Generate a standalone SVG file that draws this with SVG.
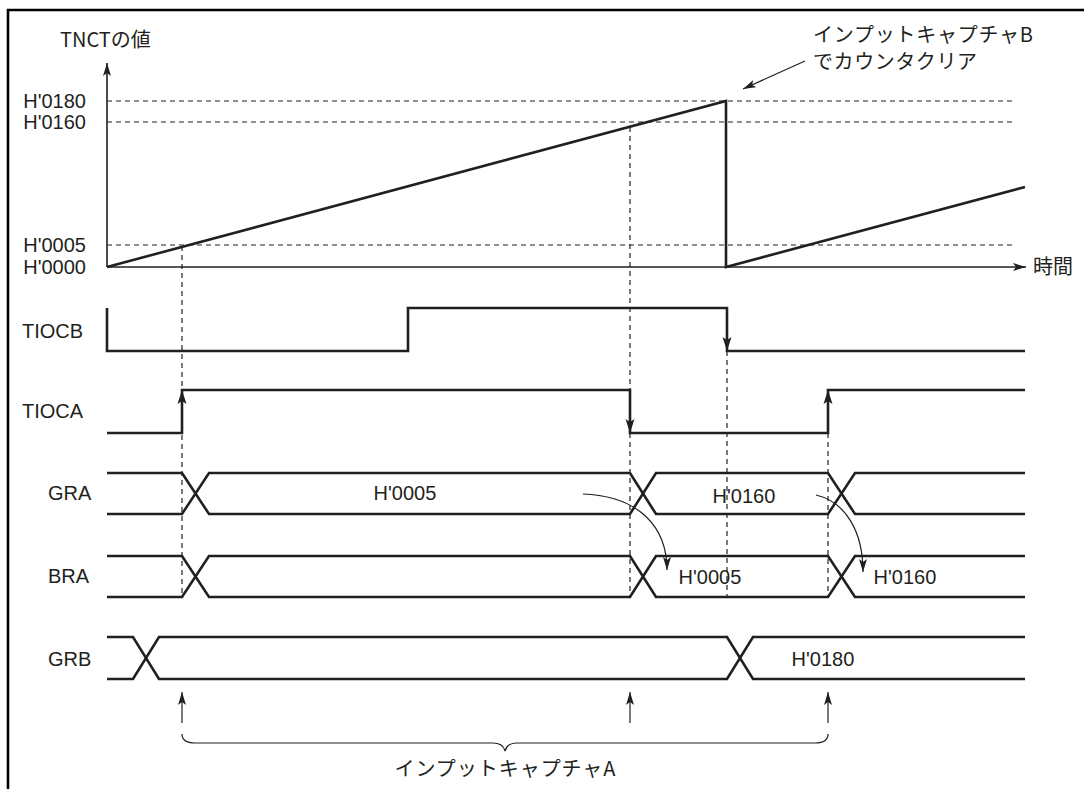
<svg xmlns="http://www.w3.org/2000/svg" width="1084" height="789" viewBox="0 0 1084 789">
<style>
text{font-family:"Liberation Sans","Noto Sans CJK JP",sans-serif;font-size:20px;fill:#231f20}
.jp{font-family:"Noto Sans CJK JP","Liberation Sans",sans-serif}
.sig{fill:none;stroke:#231f20;stroke-width:2.6;stroke-linejoin:miter}
.ax{fill:none;stroke:#231f20;stroke-width:1.6}
.dash{fill:none;stroke:#231f20;stroke-width:1.2;stroke-dasharray:5 4}
.thin{fill:none;stroke:#231f20;stroke-width:1.2}
.ah{fill:#231f20}
</style>
<defs>
<marker id="arr" viewBox="0 0 13 8" refX="13" refY="4" markerWidth="13" markerHeight="8" orient="auto" markerUnits="userSpaceOnUse"><path d="M0,0 L13,4 L0,8 L3,4 Z" fill="#231f20"/></marker>
<path id="up" d="M0,0 L-4.5,14 L0,11 L4.5,14 Z"/>
<path id="dn" d="M0,0 L-4.5,-14 L0,-11 L4.5,-14 Z"/>
</defs>
<g id="frame"><path d="M8,789 V10 H1084" fill="none" stroke="#000" stroke-width="2.6"/></g>

<g id="connectors">
<line class="dash" x1="107" y1="101" x2="1016" y2="101"/>
<line class="dash" x1="107" y1="122" x2="1016" y2="122"/>
<line class="dash" x1="107" y1="245" x2="1016" y2="245"/>
<line class="dash" x1="182" y1="246" x2="182" y2="597"/>
<line class="dash" x1="630" y1="127" x2="630" y2="597"/>
<line class="dash" x1="727" y1="351" x2="727" y2="597"/>
<line class="dash" x1="828" y1="433" x2="828" y2="597"/>
<line class="thin" x1="805" y1="61" x2="743" y2="89" marker-end="url(#arr)"/>
<path class="thin" d="M583,494 C638,496 667,526 667,570" marker-end="url(#arr)"/>
<path class="thin" d="M816,495 C846,502 863,532 863,572" marker-end="url(#arr)"/>
<line class="thin" x1="182" y1="723" x2="182" y2="692" marker-end="url(#arr)"/>
<line class="thin" x1="630" y1="723" x2="630" y2="692" marker-end="url(#arr)"/>
<line class="thin" x1="828" y1="723" x2="828" y2="692" marker-end="url(#arr)"/>
<path class="thin" d="M182,734 Q182,743 195,743 H493 Q503,743 505,751 Q507,743 517,743 H815 Q828,743 828,734"/>
</g>

<g id="axes">
<line class="ax" x1="107" y1="267" x2="107" y2="63" marker-end="url(#arr)"/>
<line class="ax" x1="107" y1="267" x2="1026" y2="267" marker-end="url(#arr)"/>
<text x="60" y="47" class="jp">TNCTの値</text>
<text x="1033" y="274" class="jp">時間</text>
<text x="86" y="108" text-anchor="end">H'0180</text>
<text x="86" y="129" text-anchor="end">H'0160</text>
<text x="86" y="252" text-anchor="end">H'0005</text>
<text x="86" y="274" text-anchor="end">H'0000</text>
</g>

<g id="counter">
<path class="sig" d="M107,267 L726,101 V267 L1025,187"/>
</g>

<g id="note">
<text x="813" y="42" class="jp" textLength="220">インプットキャプチャB</text>
<text x="813" y="69" class="jp" textLength="164">でカウンタクリア</text>
</g>

<g id="tiocb">
<text x="22" y="338">TIOCB</text>
<path class="sig" d="M107,308 V351 H408 V308 H727 V351 H1025"/>
<use href="#dn" x="727" y="351" class="ah"/>
</g>

<g id="tioca">
<text x="22" y="418">TIOCA</text>
<path class="sig" d="M107,433 H182 V390 H630 V433 H828 V390 H1025"/>
<use href="#up" x="182" y="390" class="ah"/>
<use href="#dn" x="630" y="433" class="ah"/>
<use href="#up" x="828" y="390" class="ah"/>
</g>

<g id="gra">
<text x="48" y="500">GRA</text>
<path class="sig" d="M107,473 H182 L209,514 H630 L656,473 H828 L855,514 H1025"/>
<path class="sig" d="M107,514 H182 L209,473 H630 L656,514 H828 L855,473 H1025"/>
<text x="405" y="500" text-anchor="middle">H'0005</text>
<text x="744" y="503" text-anchor="middle">H'0160</text>
</g>

<g id="bra">
<text x="48" y="583">BRA</text>
<path class="sig" d="M107,556 H182 L209,597 H630 L656,556 H828 L855,597 H1025"/>
<path class="sig" d="M107,597 H182 L209,556 H630 L656,597 H828 L855,556 H1025"/>
<text x="710" y="584" text-anchor="middle">H'0005</text>
<text x="905" y="584" text-anchor="middle">H'0160</text>
</g>

<g id="grb">
<text x="48" y="666">GRB</text>
<path class="sig" d="M107,637 H133 L159,679 H727 L753,637 H1025"/>
<path class="sig" d="M107,679 H133 L159,637 H727 L753,679 H1025"/>
<text x="823" y="666" text-anchor="middle">H'0180</text>
</g>

<g id="capture-a">
<text x="505" y="776" class="jp" text-anchor="middle" textLength="221">インプットキャプチャA</text>
</g>
</svg>
